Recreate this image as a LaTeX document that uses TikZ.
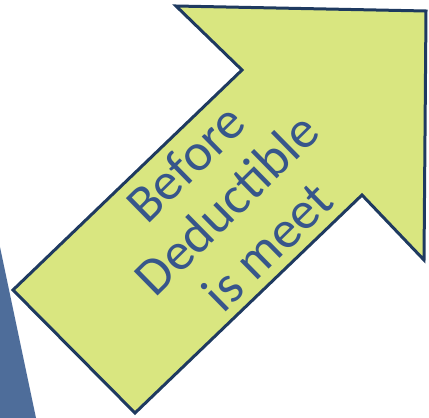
\documentclass[tikz,border=0pt]{standalone}
\usepackage{fontspec}
\setmainfont{Carlito}
\usepackage{tikz}

\definecolor{arrowfill}{HTML}{D9E680}
\definecolor{arrowline}{HTML}{1F3A60}
\definecolor{labtext}{HTML}{37568B}
\definecolor{sliver}{HTML}{4E6D9A}

\begin{document}
\begin{tikzpicture}[x=1pt,y=1pt,
    bigarrow/.style={draw=arrowline,fill=arrowfill,line width=3pt,line join=miter},
    lab/.style={font=\fontsize{53}{58}\selectfont,text=labtext,inner sep=0pt,anchor=base,rotate=44.5}]
  \useasboundingbox (0,0) rectangle (429,418);
  \fill[sliver] (0,171) -- (36,0) -- (0,0) -- cycle;
  \draw[bigarrow] (13,128) -- (242,348) -- (176,412) -- (426,407)
    -- (424,158) -- (362,223) -- (135,5) -- cycle;
  \node[lab] (lbefore) at (198,242) {Before};
  \node[lab] (ldeduct) at (239,201) {Deductible};
  \node[lab] (lmeet) at (280,159) {is meet};
\end{tikzpicture}
\end{document}
